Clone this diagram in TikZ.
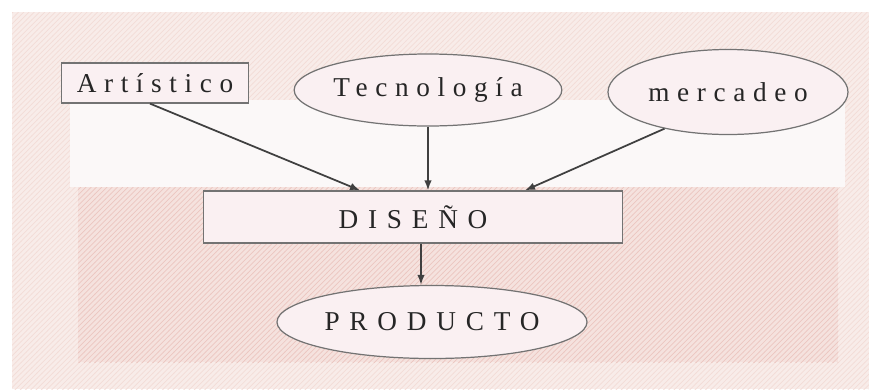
\documentclass[tikz,border=0pt]{standalone}
\usepackage{fontspec}
\setmainfont{Liberation Serif}
\newfontfamily\espaciada[LetterSpace=28]{Liberation Serif}
\newfontfamily\espaciadamay[LetterSpace=36]{Liberation Serif}
\usetikzlibrary{arrows.meta,calc,patterns,positioning,shapes.geometric}

\definecolor{marco}{RGB}{248,236,233}
\definecolor{franja}{RGB}{251,248,248}
\definecolor{marmol}{RGB}{245,226,222}
\definecolor{veta}{RGB}{236,198,192}
\definecolor{vetaclara}{RGB}{243,220,215}
\definecolor{rosa}{RGB}{250,240,242}

\tikzset{
  caja/.style={draw=black!55, line width=0.7pt, fill=rosa, text=black!85,
    inner sep=0pt, font=\fontsize{15.5}{18}\selectfont},
  elipse/.style={caja, ellipse},
  flecha/.style={-{Latex[length=2mm,width=1.5mm]}, line width=1pt, draw=black!75}
}

\begin{document}
\begin{tikzpicture}
  \useasboundingbox (0,0) rectangle (17.38,7.78);

  % fondo
  \fill[white] (0,0) rectangle (17.38,7.78);
  \fill[marco] (0.24,0) rectangle (17.38,7.54);
  \fill[pattern=north east lines, pattern color=vetaclara] (0.24,0) rectangle (17.38,7.54);
  \fill[franja] (1.4,4.04) rectangle (16.9,5.78);
  \fill[marmol] (1.56,0.54) rectangle (16.76,4.04);
  \fill[pattern=north east lines, pattern color=veta] (1.56,0.54) rectangle (16.76,4.04);

  % nodos
  \node[caja, minimum width=3.74cm, minimum height=0.8cm] (art) at (3.10,6.12)
    {\espaciada Artístico};
  \node[elipse, minimum width=4.08cm, minimum height=1.44cm] (tec) at (8.56,5.98)
    {\espaciada Tecnología};
  \node[elipse, minimum width=4.8cm, minimum height=1.7cm] (mer) at (14.56,5.94)
    {\espaciada mercadeo};
  \node[caja, minimum width=8.38cm, minimum height=1.04cm] (dis) at (8.26,3.44)
    {\espaciadamay DISEÑO};
  \node[elipse, minimum width=6.2cm, minimum height=1.46cm] (prod) at (8.64,1.34)
    {\espaciadamay PRODUCTO};

  % flechas
  \draw[flecha] ([xshift=-0.1cm]art.south) -- ([xshift=-1.06cm]dis.north);
  \draw[flecha] (tec.south) -- (tec.south |- dis.north);
  \draw[flecha] (mer.210) -- ([xshift=2.24cm]dis.north);
  \draw[flecha] ([xshift=0.16cm]dis.south) -- ([xshift=0.16cm]dis.south |- prod.north);
\end{tikzpicture}
\end{document}
